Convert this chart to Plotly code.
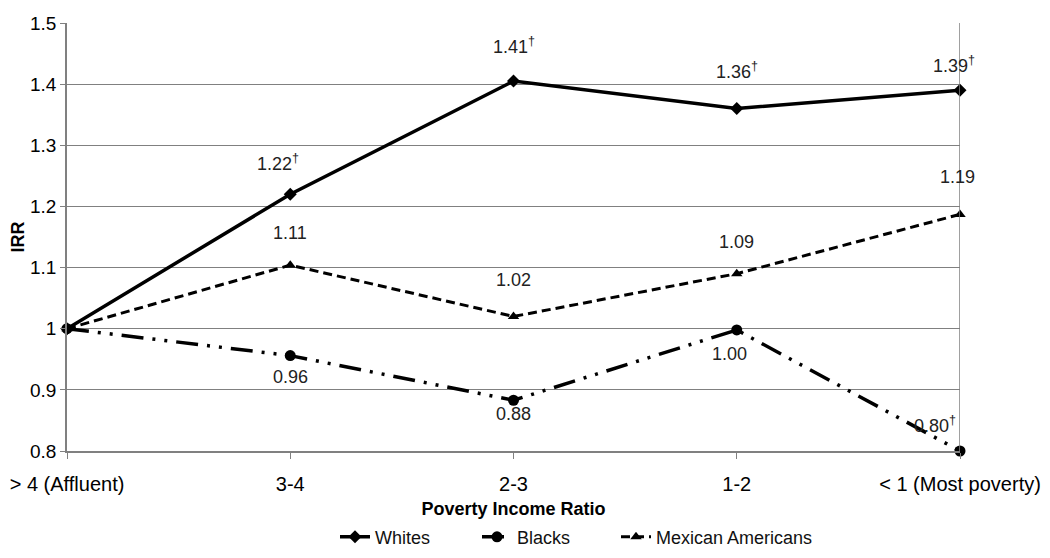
import plotly.graph_objects as go

categories = ["> 4 (Affluent)", "3-4", "2-3", "1-2", "< 1 (Most poverty)"]
whites = [1.0, 1.22, 1.405, 1.36, 1.39]
blacks = [1.0, 0.956, 0.883, 0.998, 0.80]
mexican = [1.0, 1.104, 1.02, 1.09, 1.187]

whites_labels = ["", "1.22<sup>†</sup>", "1.41<sup>†</sup>", "1.36<sup>†</sup>", "1.39<sup>†</sup>"]
blacks_labels = ["", "0.96", "0.88", "1.00", "0.80<sup>†</sup>"]
mexican_labels = ["", "1.11", "1.02", "1.09", "1.19"]

FONT = "Liberation Sans, Arial, sans-serif"
xi = list(range(len(categories)))

fig = go.Figure()
fig.add_trace(go.Scatter(x=xi, y=whites, name="Whites", mode="lines+markers",
                         line=dict(color="black", width=3.5), legend="legend",
                         marker=dict(symbol="diamond", size=10, color="black")))
fig.add_trace(go.Scatter(x=xi, y=blacks, name="Blacks", mode="lines+markers",
                         line=dict(color="black", width=3.5, dash="22px,9px,3px,9px,3px,9px"),
                         legend="legend2",
                         marker=dict(symbol="circle", size=11, color="black")))
fig.add_trace(go.Scatter(x=xi, y=mexican, name="Mexican Americans", mode="lines+markers",
                         line=dict(color="black", width=3, dash="9px,5px"), legend="legend3",
                         marker=dict(symbol="triangle-up", size=10, color="black")))

annots = []
wshift = [(0, 0), (-12, 32), (0, 36), (0, 38), (-6, 26)]
for i, (lab, v) in enumerate(zip(whites_labels, whites)):
    if lab:
        annots.append(dict(x=i, y=v, text=lab, showarrow=False, xshift=wshift[i][0], yshift=wshift[i][1]))
mshift = [(0, 0), (0, 32), (0, 36), (0, 32), (-3, 37)]
for i, (lab, v) in enumerate(zip(mexican_labels, mexican)):
    if lab:
        annots.append(dict(x=i, y=v, text=lab, showarrow=False, xshift=mshift[i][0], yshift=mshift[i][1]))
bshift = [(0, 0), (0, -21), (0, -14), (-7, -24), (-25, 27)]
for i, (lab, v) in enumerate(zip(blacks_labels, blacks)):
    if lab:
        annots.append(dict(x=i, y=v, text=lab, showarrow=False, xshift=bshift[i][0], yshift=bshift[i][1]))
for a in annots:
    a["font"] = dict(family=FONT, size=18, color="#222")

# plot area spans pixels 67..960 horizontally -> 893 px
PW = 893.0
def lx(px):
    return (px - 67) / PW

leg_common = dict(orientation="h", xanchor="left", yref="container", y=0.038, yanchor="middle",
                  font=dict(size=18, family=FONT, color="#111"), bgcolor="rgba(0,0,0,0)")

fig.update_layout(
    width=1042, height=550,
    margin=dict(l=59, r=90, t=15, b=107, autoexpand=False),
    paper_bgcolor="white", plot_bgcolor="white",
    font=dict(family=FONT, size=18, color="black"),
    annotations=annots,
    showlegend=True,
    legend=dict(x=lx(335), **leg_common),
    legend2=dict(x=lx(477), **leg_common),
    legend3=dict(x=lx(616), **leg_common),
    xaxis=dict(
        tickmode="array", tickvals=xi, ticktext=categories,
        range=[0, 4], showgrid=False, zeroline=False, automargin=False,
        showline=True, linecolor="#808080", linewidth=1.5,
        ticks="outside", ticklen=6, tickcolor="#808080",
        ticklabelstandoff=8,
        tickfont=dict(size=20, family=FONT),
        title=dict(text="<b>Poverty Income Ratio</b>", font=dict(size=18, family=FONT), standoff=10),
    ),
    yaxis=dict(
        range=[0.8, 1.5], tickvals=[0.8, 0.9, 1.0, 1.1, 1.2, 1.3, 1.4, 1.5],
        ticktext=["0.8", "0.9", "1", "1.1", "1.2", "1.3", "1.4", "1.5"],
        showgrid=True, gridcolor="#808080", gridwidth=1.2, zeroline=False, automargin=False,
        showline=True, linecolor="#808080", linewidth=1.5,
        ticks="outside", ticklen=5, tickcolor="#808080",
        tickfont=dict(size=19, family=FONT),
        title=dict(text="<b>IRR</b>", font=dict(size=18, family=FONT), standoff=6),
    ),
)
fig.add_shape(type="line", xref="x", yref="paper", x0=4, x1=4, y0=0, y1=1,
              line=dict(color="#808080", width=1.5))
fig.update_traces(cliponaxis=False)
fig.write_html("out.html")
